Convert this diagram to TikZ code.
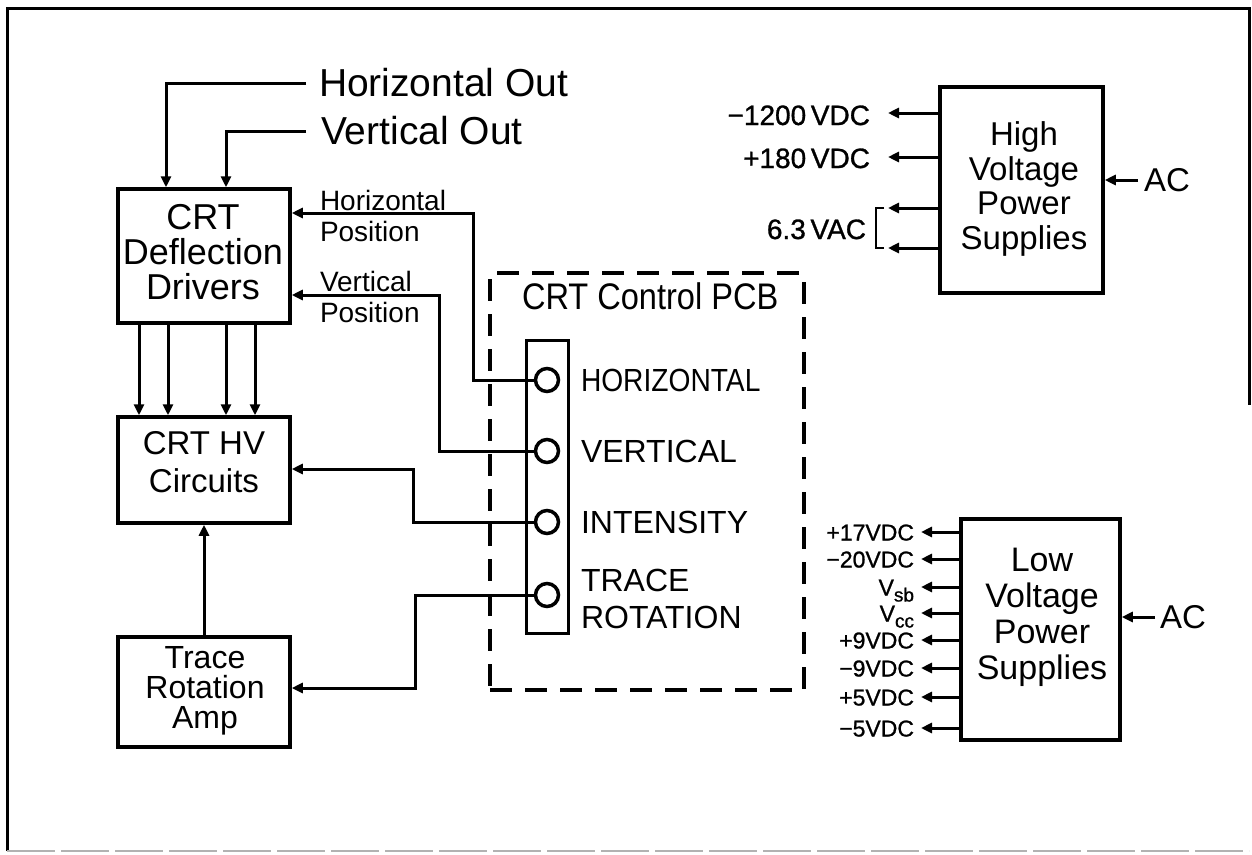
\documentclass[tikz,border=0pt]{standalone}
\usepackage{fontspec}
\setmainfont{Liberation Sans}
\newfontfamily\condfont{Liberation Sans}[FakeStretch=0.88]
\newfontfamily\heavyfont{Liberation Sans}[FakeBold=1]
\usetikzlibrary{arrows.meta}
\begin{document}
\begin{tikzpicture}[x=1pt,y=-1pt,
 box/.style={draw,line width=3.5pt,inner sep=0pt},
 conn/.style={line width=3pt},
 arr/.style={conn,-{Triangle[length=11pt,width=10pt]}},
 txt/.style={inner sep=0pt,outer sep=0pt},
 bigtxt/.style={txt,font=\fontsize{39}{39}\selectfont},
 boxtxt/.style={txt,align=center},
 postxt/.style={txt,align=left,font=\fontsize{28}{31}\selectfont},
 pcbtxt/.style={txt,align=left,font=\fontsize{32}{37}\selectfont},
 knob/.style={circle,draw,line width=3.5pt,fill=white,minimum size=23pt,inner sep=0pt},
 hvlabel/.style={txt,font=\heavyfont\fontsize{28}{28}\selectfont},
 lvlabel/.style={txt,font=\heavyfont\fontsize{23}{23}\selectfont},
 pcbbox/.style={draw,line width=4pt,dash pattern=on 22pt off 13pt,inner sep=0pt},
 bracket/.style={line width=1.8pt}
]
\useasboundingbox (0,0) rectangle (1252,854);
% outer frame
\draw[line width=3pt] (7,851) -- (7,8) -- (1249,8) -- (1249,405);
\draw[line width=2pt,black!30,dash pattern=on 48pt off 6pt] (7,851) -- (1249,851);

% left column boxes
\node[box,minimum width=172pt,minimum height=134pt] (defl) at (204,256) {};
\node[boxtxt,font=\fontsize{36}{35}\selectfont] (defltxt) at (203,252) {CRT\\Deflection\\Drivers};
\node[box,minimum width=172pt,minimum height=106pt] (hv) at (204,470) {};
\node[boxtxt,font=\fontsize{33}{38}\selectfont] (hvtxt) at (204,462) {CRT HV\\Circuits};
\node[box,minimum width=172pt,minimum height=110pt] (trace) at (204,692) {};
\node[boxtxt,font=\fontsize{32}{30}\selectfont] (tracetxt) at (205,691) {Trace\\Rotation\\Amp};

% top inputs
\node[bigtxt,anchor=west] (hout) at (319,83) {Horizontal Out};
\node[bigtxt,anchor=west] (vout) at (321,131) {Vertical Out};
\draw[arr] ([xshift=-13pt]hout.west) -| ([xshift=-38pt]defl.north);
\draw[arr] ([xshift=-15pt]vout.west) -| ([xshift=22pt]defl.north);

% deflection -> HV circuits
\foreach \dx in {-65,-36,22,51}
  \draw[arr] ([xshift=\dx pt]defl.south) -- ([xshift=\dx pt]hv.north);
\draw[arr] (trace.north) -- (hv.south);

% CRT control PCB
\node[pcbbox,minimum width=313.5pt,minimum height=417pt] (pcb) at (646.75,481.5) {};
\node[txt,anchor=west,font=\condfont\fontsize{37}{37}\selectfont] (pcbtitle) at (522,296) {CRT Control PCB};
\node[draw,line width=3pt,minimum width=42pt,minimum height=293pt,inner sep=0pt] (strip) at (547,486.5) {};
\node[knob] (k1) at (547,380) {};
\node[knob] (k2) at (547,451) {};
\node[knob] (k3) at (547,522) {};
\node[knob] (k4) at (547,595) {};
\node[pcbtxt,anchor=west,font=\condfont\fontsize{32}{37}\selectfont] (l1) at (581,380) {HORIZONTAL};
\node[pcbtxt,anchor=west] (l2) at (581,451) {VERTICAL};
\node[pcbtxt,anchor=west] (l3) at (581,522) {INTENSITY};
\node[pcbtxt,anchor=west] (l4) at (581,598.5) {TRACE\\ROTATION};

% control connections
\draw[arr] (k1.west) -| (473,213) -- (defl.east |- 0,213);
\draw[arr] (k2.west) -| (439,295) -- (defl.east |- 0,295);
\draw[arr] (k3.west) -| (413,469) -- (hv.east |- 0,469);
\draw[arr] (k4.west) -| (415,688) -- (trace.east |- 0,688);
\node[postxt,anchor=north west] (hpos) at (320,190) {Horizontal\\Position};
\node[postxt,anchor=north west] (vpos) at (320,271) {Vertical\\Position};

% high voltage power supplies
\node[box,minimum width=163pt,minimum height=206pt] (hvps) at (1021.5,190) {};
\node[boxtxt,font=\fontsize{33}{34.5}\selectfont] (hvpstxt) at (1024,189) {High\\Voltage\\Power\\Supplies};
\node[txt,anchor=west,font=\fontsize{33}{33}\selectfont] (ac1) at (1144,180) {AC};
\draw[arr] ([xshift=-6pt]ac1.west) -- (hvps.east |- 0,180);
\node[hvlabel,anchor=base east] (o1) at (870,125) {−1200\,VDC};
\node[hvlabel,anchor=base east] (o2) at (870,168) {+180\,VDC};
\node[hvlabel,anchor=base east] (o3) at (866,239) {6.3\,VAC};
\coordinate (t1) at (888,113);
\coordinate (t2) at (888,157);
\coordinate (t3) at (888,208);
\coordinate (t4) at (888,248);
\foreach \t in {t1,t2,t3,t4}
  \draw[arr] (hvps.west |- \t) -- (\t);
\draw[bracket] (884,208) -- (876,208) -- (876,248) -- (884,248);

% low voltage power supplies
\node[box,minimum width=159pt,minimum height=221pt] (lvps) at (1040.5,629.5) {};
\node[boxtxt,font=\fontsize{34}{36}\selectfont] (lvpstxt) at (1042,617) {Low\\Voltage\\Power\\Supplies};
\node[txt,anchor=west,font=\fontsize{33}{33}\selectfont] (ac2) at (1160,617) {AC};
\draw[arr] ([xshift=-5pt]ac2.west) -- (lvps.east |- 0,617);
\foreach \y/\lab [count=\i] in {532/{+17VDC},559/{−20VDC},587/{V\raisebox{-6pt}{\fontsize{19}{19}\selectfont sb}},613/{V\raisebox{-6pt}{\fontsize{19}{19}\selectfont cc}},640/{+9VDC},668/{−9VDC},697/{+5VDC},728/{−5VDC}}{
  \node[lvlabel,anchor=base east] (lv\i) at (914,\y+8.5) {\lab};
  \coordinate (lt\i) at (921,\y);
  \draw[arr] (lvps.west |- lt\i) -- (lt\i);
}
\end{tikzpicture}
\end{document}
